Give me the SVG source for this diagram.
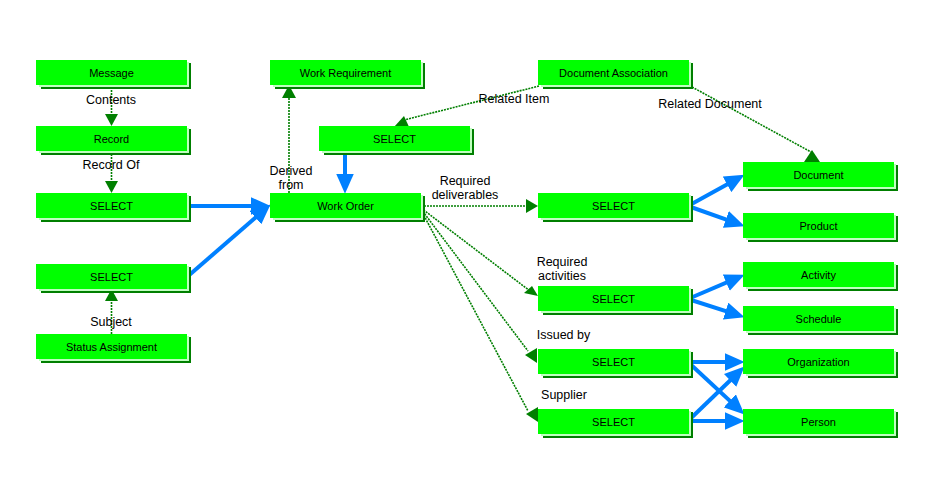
<svg xmlns="http://www.w3.org/2000/svg" width="940" height="487" viewBox="0 0 940 487">
<style>
.dk{fill:#007f00}
.pl{fill:#c0ffc0}
.bx{fill:#00ff00}
.nt{font-family:"Liberation Sans",Arial,sans-serif;font-size:11px;fill:#000;text-anchor:middle}
.lb{font-family:"Liberation Sans",Arial,sans-serif;font-size:12.5px;fill:#000;text-anchor:middle}
.gl{stroke:#007f00;stroke-width:1.6;stroke-dasharray:2 1;fill:none}
.ga{fill:#007f00}
.bl{stroke:#0080ff;stroke-width:4;fill:none;marker-end:url(#ba)}
</style>
<defs>
<marker id="ba" markerUnits="userSpaceOnUse" markerWidth="20" markerHeight="18" viewBox="0 0 18 16" refX="12" refY="8" orient="auto">
<path d="M0,0 L18,8 L0,16 z" fill="#0080ff"/>
</marker>
</defs>
<rect width="940" height="487" fill="#fff"/>

<g id="connectors">
<line class="gl" x1="111.5" y1="84" x2="111.5" y2="114"/>
<polygon class="ga" points="105,114 118,114 111.5,126"/>
<line class="gl" x1="111.5" y1="151" x2="111.5" y2="181"/>
<polygon class="ga" points="105,181 118,181 111.5,193"/>
<line class="gl" x1="111.5" y1="334" x2="111.5" y2="301"/>
<polygon class="ga" points="105,301 118,301 111.5,289"/>
<line class="gl" x1="289" y1="193" x2="289" y2="98"/>
<polygon class="ga" points="282,98 296,98 289,85"/>
<line class="gl" x1="539" y1="86" x2="404" y2="120"/>
<polygon class="ga" points="394,127 404,116 410,129"/>
<line class="gl" x1="692" y1="87" x2="811" y2="152"/>
<polygon class="ga" points="804,162 812,150 820,162"/>
<line class="gl" x1="421" y1="206" x2="527" y2="206"/>
<polygon class="ga" points="526,199 526,213 538,206"/>
<line class="gl" x1="421" y1="208" x2="530" y2="291"/>
<polygon class="ga" points="524,293 532,286 538,296"/>
<line class="gl" x1="421" y1="209" x2="528" y2="351"/>
<polygon class="ga" points="525,355 537,348 537,363"/>
<line class="gl" x1="421" y1="210" x2="528" y2="411"/>
<polygon class="ga" points="526,414 538,407 538,422"/>
<line class="bl" x1="187" y1="206" x2="264" y2="206"/>
<line class="bl" x1="187" y1="277" x2="265.5" y2="208.9"/>
<line class="bl" x1="345" y1="151" x2="345" y2="187"/>
<line class="bl" x1="688" y1="206" x2="738.7" y2="177.9"/>
<line class="bl" x1="688" y1="206" x2="738.4" y2="223.9"/>
<line class="bl" x1="688" y1="299" x2="738.5" y2="277.4"/>
<line class="bl" x1="688" y1="299" x2="738.3" y2="315.2"/>
<line class="bl" x1="688" y1="362" x2="738" y2="362"/>
<line class="bl" x1="688" y1="362" x2="739.6" y2="409.9"/>
<line class="bl" x1="688" y1="421" x2="738" y2="421"/>
<line class="bl" x1="688" y1="421" x2="739.7" y2="371.2"/>
<text class="lb" x="111" y="104">Contents</text>
<text class="lb" x="111" y="169">Record Of</text>
<text class="lb" x="111" y="325.5">Subject</text>
<text class="lb" x="291" y="174.5">Derived</text>
<text class="lb" x="291" y="188.5">from</text>
<text class="lb" x="514" y="103">Related Item</text>
<text class="lb" x="710" y="108">Related Document</text>
<text class="lb" x="465" y="185">Required</text>
<text class="lb" x="465" y="199">deliverables</text>
<text class="lb" x="562" y="266">Required</text>
<text class="lb" x="562" y="280">activities</text>
<text class="lb" x="563.5" y="339">Issued by</text>
<text class="lb" x="564" y="399">Supplier</text>
</g>

<g id="message" transform="translate(36,60)"><rect class="dk" x="5" y="3" width="150" height="26"/><rect class="pl" x="3" y="2" width="150" height="25"/><rect class="bx" width="151" height="25"/><text class="nt" x="75.5" y="16.5">Message</text></g>
<g id="record" transform="translate(36,126)"><rect class="dk" x="5" y="3" width="150" height="26"/><rect class="pl" x="3" y="2" width="150" height="25"/><rect class="bx" width="151" height="25"/><text class="nt" x="75.5" y="16.5">Record</text></g>
<g id="select_l1" transform="translate(36,193)"><rect class="dk" x="5" y="3" width="150" height="26"/><rect class="pl" x="3" y="2" width="150" height="25"/><rect class="bx" width="151" height="25"/><text class="nt" x="75.5" y="16.5">SELECT</text></g>
<g id="select_l2" transform="translate(36,264)"><rect class="dk" x="5" y="3" width="150" height="26"/><rect class="pl" x="3" y="2" width="150" height="25"/><rect class="bx" width="151" height="25"/><text class="nt" x="75.5" y="16.5">SELECT</text></g>
<g id="status_assignment" transform="translate(36,334)"><rect class="dk" x="5" y="3" width="150" height="26"/><rect class="pl" x="3" y="2" width="150" height="25"/><rect class="bx" width="151" height="25"/><text class="nt" x="75.5" y="16.5">Status Assignment</text></g>
<g id="work_requirement" transform="translate(270,60)"><rect class="dk" x="5" y="3" width="150" height="26"/><rect class="pl" x="3" y="2" width="150" height="25"/><rect class="bx" width="151" height="25"/><text class="nt" x="75.5" y="16.5">Work Requirement</text></g>
<g id="select_mid" transform="translate(319,126)"><rect class="dk" x="5" y="3" width="150" height="26"/><rect class="pl" x="3" y="2" width="150" height="25"/><rect class="bx" width="151" height="25"/><text class="nt" x="75.5" y="16.5">SELECT</text></g>
<g id="work_order" transform="translate(270,193)"><rect class="dk" x="5" y="3" width="150" height="26"/><rect class="pl" x="3" y="2" width="150" height="25"/><rect class="bx" width="151" height="25"/><text class="nt" x="75.5" y="16.5">Work Order</text></g>
<g id="document_association" transform="translate(538,60)"><rect class="dk" x="5" y="3" width="150" height="26"/><rect class="pl" x="3" y="2" width="150" height="25"/><rect class="bx" width="151" height="25"/><text class="nt" x="75.5" y="16.5">Document Association</text></g>
<g id="select_r1" transform="translate(538,193)"><rect class="dk" x="5" y="3" width="150" height="26"/><rect class="pl" x="3" y="2" width="150" height="25"/><rect class="bx" width="151" height="25"/><text class="nt" x="75.5" y="16.5">SELECT</text></g>
<g id="select_r2" transform="translate(538,286)"><rect class="dk" x="5" y="3" width="150" height="26"/><rect class="pl" x="3" y="2" width="150" height="25"/><rect class="bx" width="151" height="25"/><text class="nt" x="75.5" y="16.5">SELECT</text></g>
<g id="select_r3" transform="translate(538,349)"><rect class="dk" x="5" y="3" width="150" height="26"/><rect class="pl" x="3" y="2" width="150" height="25"/><rect class="bx" width="151" height="25"/><text class="nt" x="75.5" y="16.5">SELECT</text></g>
<g id="select_r4" transform="translate(538,409)"><rect class="dk" x="5" y="3" width="150" height="26"/><rect class="pl" x="3" y="2" width="150" height="25"/><rect class="bx" width="151" height="25"/><text class="nt" x="75.5" y="16.5">SELECT</text></g>
<g id="document" transform="translate(743,162)"><rect class="dk" x="5" y="3" width="150" height="26"/><rect class="pl" x="3" y="2" width="150" height="25"/><rect class="bx" width="151" height="25"/><text class="nt" x="75.5" y="16.5">Document</text></g>
<g id="product" transform="translate(743,213)"><rect class="dk" x="5" y="3" width="150" height="26"/><rect class="pl" x="3" y="2" width="150" height="25"/><rect class="bx" width="151" height="25"/><text class="nt" x="75.5" y="16.5">Product</text></g>
<g id="activity" transform="translate(743,262)"><rect class="dk" x="5" y="3" width="150" height="26"/><rect class="pl" x="3" y="2" width="150" height="25"/><rect class="bx" width="151" height="25"/><text class="nt" x="75.5" y="16.5">Activity</text></g>
<g id="schedule" transform="translate(743,306)"><rect class="dk" x="5" y="3" width="150" height="26"/><rect class="pl" x="3" y="2" width="150" height="25"/><rect class="bx" width="151" height="25"/><text class="nt" x="75.5" y="16.5">Schedule</text></g>
<g id="organization" transform="translate(743,349)"><rect class="dk" x="5" y="3" width="150" height="26"/><rect class="pl" x="3" y="2" width="150" height="25"/><rect class="bx" width="151" height="25"/><text class="nt" x="75.5" y="16.5">Organization</text></g>
<g id="person" transform="translate(743,409)"><rect class="dk" x="5" y="3" width="150" height="26"/><rect class="pl" x="3" y="2" width="150" height="25"/><rect class="bx" width="151" height="25"/><text class="nt" x="75.5" y="16.5">Person</text></g>
</svg>
